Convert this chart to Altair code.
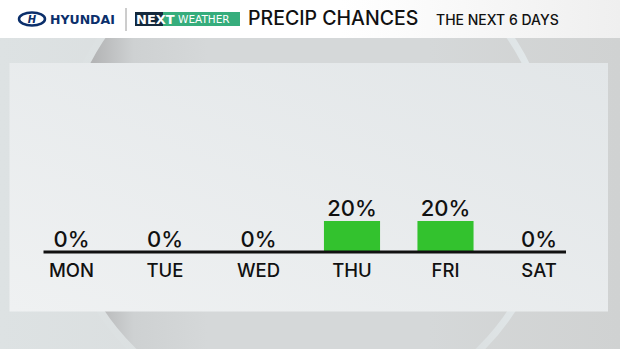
import altair as alt
import pandas as pd

days = ["MON", "TUE", "WED", "THU", "FRI", "SAT"]
chances = [0, 0, 0, 20, 20, 0]
labels = [f"{v}%" for v in chances]

title_text = "PRECIP CHANCES"
subtitle_text = "THE NEXT 6 DAYS"
brand_text = "HYUNDAI"

df = pd.DataFrame({"day": days, "chance": chances, "label": labels})
one = alt.Data(values=[{"a": 1}])

FONT = "Inter"
xscale = alt.Scale(domain=days, range=[24.75, 585.75], paddingInner=0.4, paddingOuter=0.2)
yscale = alt.Scale(domain=[0, 100], range=[252, 97])


def grad(stops, x1=0, y1=0, x2=1, y2=0):
    return alt.Gradient(
        gradient="linear",
        stops=[alt.GradientStop(color=c, offset=o) for o, c in stops],
        x1=x1, y1=y1, x2=x2, y2=y2,
    )


bg = alt.Chart(one).mark_rect(
    fill=grad([(0, "#dde2e3"), (0.5, "#d8dbdc"), (1, "#d0d2d2")])
).encode(x=alt.value(0), x2=alt.value(620), y=alt.value(0), y2=alt.value(349))

circle = alt.Chart(one).mark_circle(
    size=242800, opacity=1,
    fill=grad([(0, "#a9aaab"), (0.07, "#b4b5b6"), (0.15, "#ced1d2"), (0.3, "#d5d8d9"),
               (0.75, "#d5d8d9"), (1, "#d1d3d3")]),
    stroke=grad([(0, "#dde2e3"), (0.75, "#d6d9da"), (1, "#e4ebed")]),
    strokeWidth=7,
).encode(x=alt.value(306), y=alt.value(175))

header = alt.Chart(one).mark_rect(
    fill=grad([(0, "#ffffff"), (0.55, "#ffffff"), (1, "#efefef")])
).encode(x=alt.value(0), x2=alt.value(620), y=alt.value(0), y2=alt.value(38))

panel = alt.Chart(one).mark_rect(
    fill=grad([(0, "#eff1f2"), (1, "#e2e6e8")], x1=0, y1=1, x2=1, y2=0)
).encode(x=alt.value(9.5), x2=alt.value(608), y=alt.value(63), y2=alt.value(311.5))

logo_ellipse = alt.Chart(one).mark_point(
    shape="M -1 0 A 1 0.5 0 1 1 1 0 A 1 0.5 0 1 1 -1 0 Z",
    size=676, filled=False, stroke="#0b2f6b", strokeWidth=2.5, opacity=1,
).encode(x=alt.value(32), y=alt.value(19))

logo_h = alt.Chart(one).mark_text(
    text="H", font="DejaVu Sans", fontSize=10, fontWeight="bold", fontStyle="italic",
    color="#0b2f6b", align="center", baseline="middle",
).encode(x=alt.value(32), y=alt.value(19.5))

brand = alt.Chart(one).mark_text(
    text=brand_text, font="DejaVu Sans", fontSize=12.5, fontWeight="bold",
    color="#0b2f6b", align="left", baseline="alphabetic",
).encode(x=alt.value(50), y=alt.value(23.5))

divider = alt.Chart(one).mark_rule(color="#9a9a9a", strokeWidth=1).encode(
    x=alt.value(126), y=alt.value(8), y2=alt.value(31)
)

next_navy = alt.Chart(one).mark_rect(fill="#14293c").encode(
    x=alt.value(135), x2=alt.value(163), y=alt.value(12), y2=alt.value(26)
)
next_green = alt.Chart(one).mark_rect(fill="#36ad7c").encode(
    x=alt.value(163), x2=alt.value(240), y=alt.value(12), y2=alt.value(26)
)
next_text = alt.Chart(one).mark_text(
    text="NEXT", font="DejaVu Sans", fontSize=13, fontWeight="bold",
    color="#ffffff", align="left", baseline="alphabetic",
).encode(x=alt.value(136), y=alt.value(24))
weather_text = alt.Chart(one).mark_text(
    text="WEATHER", font="DejaVu Sans", fontSize=10.5,
    color="#ffffff", align="left", baseline="alphabetic",
).encode(x=alt.value(178), y=alt.value(23))

title = alt.Chart(one).mark_text(
    text=title_text, font=FONT, fontSize=19.5, fontWeight=500,
    color="#111111", align="left", baseline="alphabetic",
).encode(x=alt.value(248), y=alt.value(24.5))

subtitle = alt.Chart(one).mark_text(
    text=subtitle_text, font=FONT, fontSize=14, fontWeight=500,
    color="#111111", align="left", baseline="alphabetic",
).encode(x=alt.value(436), y=alt.value(24.5))

bars = alt.Chart(df).mark_bar(color="#33c22e").encode(
    x=alt.X("day:N", scale=xscale, axis=None, sort=days),
    y=alt.Y("chance:Q", scale=yscale, axis=None),
)

baseline = alt.Chart(one).mark_rule(color="#111111", strokeWidth=3).encode(
    x=alt.value(43.5), x2=alt.value(566), y=alt.value(252)
)

pct = alt.Chart(df).mark_text(
    font=FONT, fontSize=22, fontWeight=500, color="#111111",
    align="center", baseline="alphabetic", dy=-5.5,
).encode(
    x=alt.X("day:N", scale=xscale, axis=None, sort=days),
    y=alt.Y("chance:Q", scale=yscale, axis=None),
    text="label:N",
)

daylab = alt.Chart(df).mark_text(
    font=FONT, fontSize=18.5, fontWeight=500, color="#111111",
    align="center", baseline="alphabetic",
).encode(
    x=alt.X("day:N", scale=xscale, axis=None, sort=days),
    y=alt.value(277),
    text="day:N",
)

chart = alt.layer(
    bg, circle, header, panel,
    logo_ellipse, logo_h, brand, divider,
    next_navy, next_green, next_text, weather_text,
    title, subtitle,
    bars, baseline, pct, daylab,
).properties(
    width=620, height=349,
    autosize=alt.AutoSizeParams(type="none"),
    padding=0,
).configure_view(stroke=None).configure(background="#d8dcdd")

chart.save("out.html", embed_options={"renderer": "svg", "actions": False})
